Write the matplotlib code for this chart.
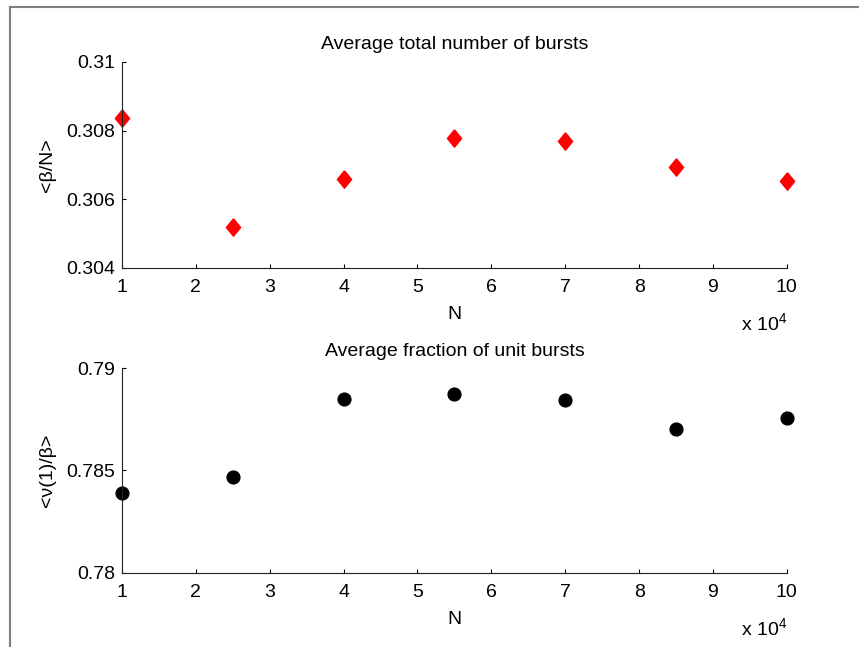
import matplotlib
matplotlib.use('Agg')
import matplotlib.pyplot as plt
from matplotlib.lines import Line2D
import numpy as np

plt.rcParams['font.family'] = ['Liberation Sans', 'DejaVu Sans']
plt.rcParams['mathtext.fontset'] = 'custom'
plt.rcParams['mathtext.rm'] = 'Liberation Sans'
FS = 14

# system sizes and averages
N = np.array([10000, 25000, 40000, 55000, 70000, 85000, 100000])
beta_over_N = [0.30837, 0.30519, 0.30658, 0.30779, 0.30770, 0.30694, 0.30654]
unit_fraction = [0.78389, 0.78470, 0.78850, 0.78873, 0.78844, 0.78701, 0.78755]

x_ticks = list(range(1, 11))
top_yticks = [0.304, 0.306, 0.308, 0.31]
top_yticklabels = ['0.304', '0.306', '0.308', '0.31']
bot_yticks = [0.78, 0.785, 0.79]
bot_yticklabels = ['0.78', '0.785', '0.79']

# slightly tall diamond like matlab's 'd'
diamond = [(0, 1), (0.82, 0), (0, -1), (-0.82, 0), (0, 1)]

fig = plt.figure(figsize=(8.59, 6.47), dpi=100)
ax1 = fig.add_axes([0.142, 0.5858, 0.774, 0.3184])
ax2 = fig.add_axes([0.142, 0.1144, 0.774, 0.3168])

def style(ax, yticks, yticklabels, ylabel, title):
    for s in ['top', 'right']:
        ax.spines[s].set_visible(False)
    for s in ['left', 'bottom']:
        ax.spines[s].set_linewidth(0.8)
        ax.spines[s].set_color('#222222')
    ax.set_xlim(1, 10)
    ax.set_xticks(x_ticks)
    ax.set_ylim(yticks[0], yticks[-1])
    ax.set_yticks(yticks)
    ax.set_yticklabels(yticklabels)
    ax.tick_params(direction='in', length=3, width=0.8, labelsize=FS)
    ax.tick_params(axis='x', pad=8)
    ax.tick_params(axis='y', pad=5)
    ax.set_xlabel('N', fontsize=FS, labelpad=7)
    ax.set_ylabel(ylabel, fontsize=FS, labelpad=7)
    ax.set_title(title, fontsize=FS, pad=9)
    ax.text(1.0, -0.27, 'x 10$^4$', ha='right', va='center',
            transform=ax.transAxes, fontsize=FS)

ax1.plot(N / 1e4, beta_over_N, linestyle='none', marker=diamond,
         markersize=12.5, color='red', clip_on=False)
style(ax1, top_yticks, top_yticklabels, '<\u03b2/N>',
      'Average total number of bursts')

ax2.plot(N / 1e4, unit_fraction, linestyle='none', marker='o',
         markersize=9.2, color='black', clip_on=False)
style(ax2, bot_yticks, bot_yticklabels, '<\u03bd(1)/\u03b2>',
      'Average fraction of unit bursts')

# grey border along the top and left edges
fx = 9.7 / 859
fy = 1 - 7.3 / 647
fig.add_artist(Line2D([fx, 1], [fy, fy], transform=fig.transFigure,
                      color='#7f7f7f', linewidth=1.5))
fig.add_artist(Line2D([fx, fx], [0, fy], transform=fig.transFigure,
                      color='#7f7f7f', linewidth=1.5))

fig.savefig('out.png', dpi=100)
